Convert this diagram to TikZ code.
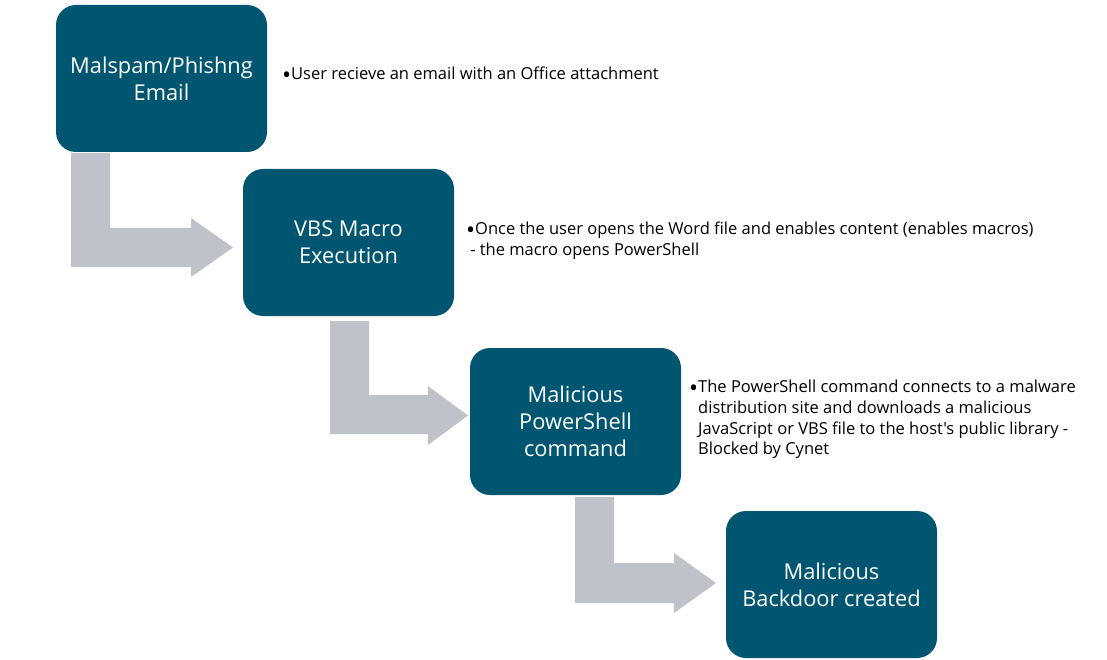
\documentclass[tikz,border=0pt]{standalone}
\usepackage{fontspec}
\setmainfont{Open Sans}[Ligatures=TeXOff]
\definecolor{boxteal}{RGB}{0,86,112}
\definecolor{arrowgray}{RGB}{191,195,201}
\newcommand{\bul}{{\fontsize{24}{20}\selectfont\smash{\raisebox{-0.15em}{\textbullet}}}}
\begin{document}
\begin{tikzpicture}[x=1pt,y=-1pt,
  stepbox/.style={draw=none,fill=boxteal,rounded corners=20pt,minimum width=211pt,minimum height=147pt,
    text=white,align=center,font=\fontsize{21.8}{27}\selectfont,inner sep=0pt},
  bent/.style={fill=arrowgray,draw=none},
  note/.style={anchor=north west,inner sep=0pt,font=\fontsize{16.5}{20.7}\selectfont,text=black}]
\useasboundingbox (0,0) rectangle (1107,660);
% bent arrows
\fill[bent] (71,153) -- (110,153) -- (110,228) -- (191,228) -- (191,218) -- (233,247.5) -- (191,277) -- (191,267) -- (71,267) -- cycle;
\fill[bent] (330,321) -- (369,321) -- (369,395) -- (428,395) -- (428,386) -- (468,415.5) -- (428,445) -- (428,434) -- (330,434) -- cycle;
\fill[bent] (575,497) -- (614,497) -- (614,563) -- (674,563) -- (674,553) -- (716,583) -- (674,613) -- (674,603) -- (575,603) -- cycle;
% boxes
\node[stepbox] (b1) at (161.5,78.5) {Malspam/Phishng\\Email};
\node[stepbox] (b2) at (348.5,242.5) {VBS Macro\\Execution};
\node[stepbox] (b3) at (575.5,421.5) {Malicious\\PowerShell\\command};
\node[stepbox] (b4) at (831.5,584.5) {Malicious\\Backdoor created};
% notes
\node[note] (n1) at (282,65) {\begin{tabular}{@{}l@{}l@{}}\bul&User recieve an email with an Office attachment\end{tabular}};
\node[note] (n2) at (466,220) {\begin{tabular}{@{}l@{}l@{}}\bul&Once the user opens the Word file and enables content (enables macros)\\
 & \hspace{-0.3em}- the macro opens PowerShell\end{tabular}};
\node[note] (n3) at (689,378) {\begin{tabular}{@{}l@{}l@{}}\bul&The PowerShell command connects to a malware\\
 &distribution site and downloads a malicious\\
 &JavaScript or VBS file to the host's public library -\\
 &Blocked by Cynet\end{tabular}};
\end{tikzpicture}
\end{document}
